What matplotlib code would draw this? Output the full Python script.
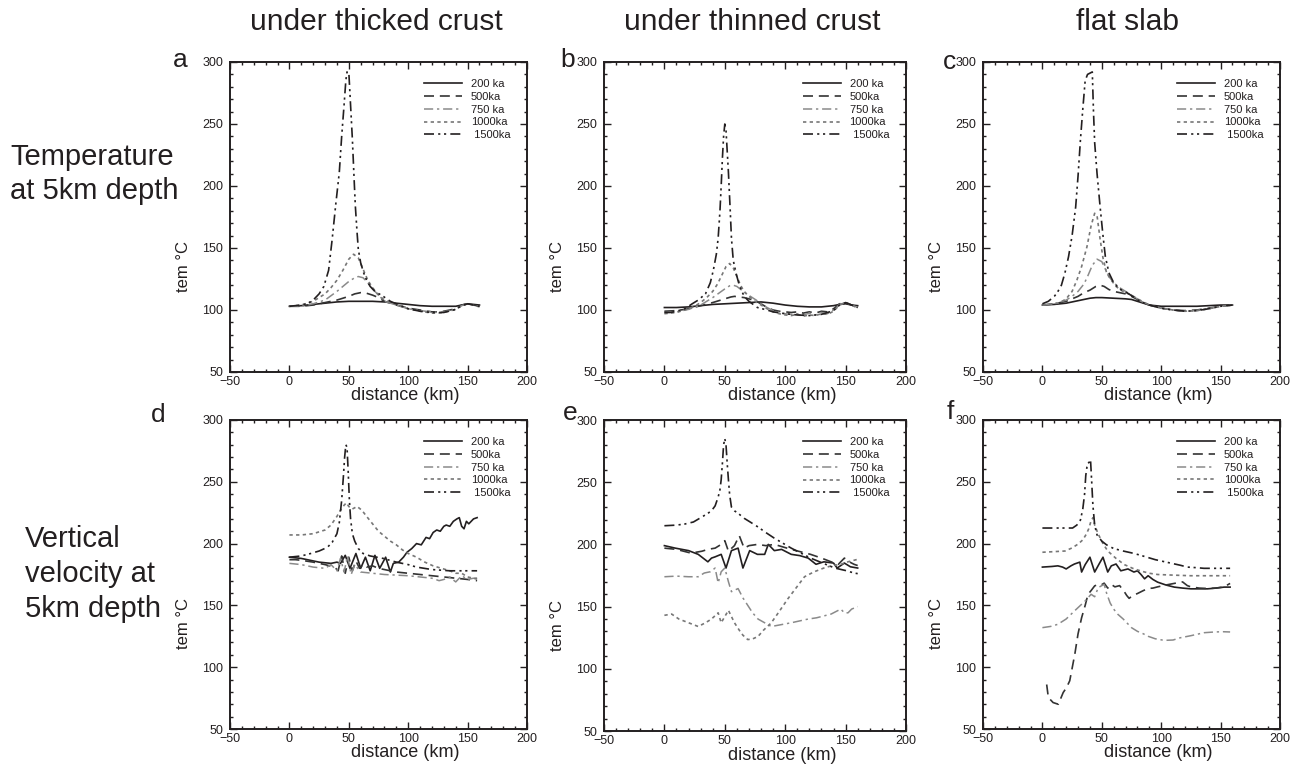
import matplotlib
matplotlib.use("Agg")
import matplotlib.pyplot as plt
from matplotlib.ticker import MultipleLocator

plt.rcParams['font.family'] = ['Liberation Sans', 'DejaVu Sans']

# ---------------- data ----------------
labels = ["200 ka", "500ka", "750 ka", "1000ka", " 1500ka"]
col_titles = ["under thicked crust", "under thinned crust", "flat slab"]
row_titles = ["Temperature\nat 5km depth", "Vertical\nvelocity at\n5km depth"]
panel_letters = ["a", "b", "c", "d", "e", "f"]
x_ticks = [-50, 0, 50, 100, 150, 200]
y_ticks = [50, 100, 150, 200, 250, 300]

# panel a
a_200_x = [0, 10, 20, 30, 40, 50, 60, 70, 80, 90, 100, 110, 120, 130, 140, 145, 150, 155, 160]
a_200_y = [103, 103.5, 104.5, 105.5, 106.5, 107, 107, 107, 106.5, 105.5, 104.5, 103.5, 103, 103, 103, 104, 105, 104.5, 104]
a_500_x = [0, 10, 20, 30, 40, 50, 55, 60, 65, 70, 75, 80, 90, 100, 110, 120, 125, 130, 140, 145, 150, 155, 160]
a_500_y = [103, 103, 104, 106, 108, 111, 113, 114, 113.5, 112, 110, 107, 104, 101.5, 100, 98.5, 98.5, 99, 101, 104, 105, 104, 103]
a_750_x = [0, 10, 20, 30, 40, 45, 50, 55, 58, 62, 66, 70, 75, 80, 90, 100, 110, 120, 125, 130, 140, 145, 150, 155, 160]
a_750_y = [103, 103, 105, 108, 115, 119, 123, 126, 127, 126, 122, 117, 112, 107, 104, 101, 99.5, 98.5, 98, 98.5, 100.5, 103.5, 105, 104, 103]
a_1000_x = [0, 10, 20, 30, 35, 40, 45, 50, 54, 58, 62, 66, 70, 75, 80, 90, 100, 110, 120, 125, 130, 140, 145, 150, 155, 160]
a_1000_y = [103, 104, 107, 113, 118, 124, 132, 141, 145, 142, 133, 124, 118, 112, 108, 104, 101, 99, 97.5, 97.5, 98, 100.5, 103.5, 105, 104, 102.5]
a_1500_x = [0, 5, 10, 15, 20, 25, 29, 33, 36, 39, 42, 44, 46, 47.5, 48.5, 50, 51.5, 53, 54.5, 55.5, 57, 58, 60, 62.5, 65, 68, 72, 79, 85, 90, 100, 110, 120, 130, 140, 145, 150, 155, 160]
a_1500_y = [103, 103.5, 104, 105, 108, 113, 119, 132, 157, 185, 211, 240, 265, 285, 292, 292, 265, 238, 205, 184, 162, 149, 138, 130, 124, 119, 115, 111, 107, 105, 101, 99, 98, 98, 100.5, 103.5, 105, 104, 103]

# panel b
b_200_x = [0, 10, 20, 30, 40, 50, 60, 70, 80, 90, 100, 110, 120, 130, 140, 145, 150, 155, 160]
b_200_y = [102, 102, 102.5, 103.5, 104.5, 105, 105.5, 106, 106.5, 105.5, 104, 103, 102.5, 102.5, 103.5, 104.5, 105, 104, 103.5]
b_500_x = [0, 10, 20, 30, 40, 50, 55, 58, 62, 66, 70, 75, 80, 85, 90, 95, 100, 105, 110, 115, 120, 125, 130, 135, 140, 145, 150, 155, 160]
b_500_y = [99, 99.5, 101, 103.5, 106, 109, 110.5, 111, 110.5, 110, 109, 107.5, 105, 102, 100, 99, 98.5, 98, 98.5, 97.5, 98.5, 97.5, 99, 98.5, 101, 105, 106, 104, 102.5]
b_750_x = [0, 10, 20, 30, 40, 45, 50, 54, 57, 60, 64, 68, 72, 76, 80, 85, 90, 95, 100, 105, 110, 115, 120, 125, 130, 135, 140, 145, 150, 155, 160]
b_750_y = [98, 98.5, 100.5, 104, 110, 113.5, 117, 119.5, 120, 119, 116, 113, 110.5, 108, 105, 102, 99.5, 98, 97, 96.5, 97, 96, 97.5, 96, 98, 97, 100, 104.5, 106, 104, 102]
b_1000_x = [0, 10, 20, 25, 30, 35, 40, 44, 48, 51, 54, 57, 60, 63, 66, 70, 75, 80, 85, 90, 95, 100, 105, 110, 115, 120, 125, 130, 135, 140, 145, 150, 155, 160]
b_1000_y = [97, 98, 101, 103, 106, 110, 115, 121, 129, 135, 137.5, 134, 127, 120, 115, 111, 107, 104, 101, 98.5, 97, 96, 95.5, 96.5, 95, 96, 95.5, 97, 96.5, 99, 104, 106, 104, 101.5]
b_1500_x = [0, 5, 10, 17, 23, 28, 34, 38, 40.5, 43, 44.5, 46, 47, 48, 49, 50, 51, 52, 53, 54.5, 55.5, 57, 59.5, 62, 66, 70, 77, 85, 90, 100, 110, 120, 130, 140, 145, 150, 155, 160]
b_1500_y = [98, 98, 99, 101, 105, 108, 113, 122, 132, 145, 158, 180, 200, 222, 240, 250, 245, 228, 211, 180, 158, 140, 129, 120, 111, 107, 102, 100, 98.5, 97, 96, 95.5, 96.5, 99.5, 104, 106, 104, 102]

# panel c
c_200_x = [0, 10, 20, 30, 40, 45, 50, 60, 70, 75, 80, 85, 90, 95, 100, 110, 120, 130, 140, 150, 160]
c_200_y = [104, 104.5, 105.5, 107.5, 109.5, 110, 110, 109.5, 109, 108.5, 107, 105.5, 104, 103.5, 103, 103, 103, 103, 103.5, 104, 104]
c_500_x = [0, 10, 20, 30, 35, 40, 45, 48.5, 52, 56, 60, 65, 70, 75, 80, 85, 90, 100, 110, 120, 130, 140, 150, 160]
c_500_y = [104, 105, 107, 111, 114, 116, 119, 120, 119, 116.5, 115, 114, 113, 111, 108.5, 106, 104, 101.5, 100, 99.5, 100, 101.5, 103, 104]
c_750_x = [0, 10, 20, 25, 30, 35, 38, 42, 46, 50, 53, 56, 60, 65, 70, 75, 80, 85, 90, 100, 110, 120, 130, 140, 150, 160]
c_750_y = [104, 105, 108, 111, 115, 121, 127, 136, 141, 139, 133, 127, 122, 118, 115, 112, 109, 106, 104, 101.5, 100, 99, 99.5, 101, 103, 104]
c_1000_x = [0, 10, 15, 20, 25, 29, 33, 37.5, 41, 44, 46, 48.6, 51, 54, 58, 62, 66, 70, 75, 80, 85, 90, 100, 110, 120, 130, 140, 150, 160]
c_1000_y = [104, 105, 106, 109, 115, 124, 135, 151, 168, 178, 176, 157, 142, 130, 124, 119, 116, 114, 112, 109, 106.5, 104, 101.5, 100, 99, 99.5, 101, 103, 104]
c_1500_x = [0, 5, 10, 12.5, 16, 19, 22, 25, 28, 30, 32, 34, 36, 38, 40, 42, 43, 44, 46, 48.6, 51, 53, 56, 60, 65, 71, 76, 82, 90, 100, 110, 120, 130, 140, 150, 160]
c_1500_y = [105, 107, 111, 114, 120, 130, 143, 160, 183, 208, 237, 262, 285, 290, 291, 292, 260, 235, 210, 183, 160, 143, 130, 122, 117, 114, 111, 107, 104, 101.5, 100, 99, 99.5, 101, 103, 104]

# panel d
d_200_x = [0, 5, 10, 15, 20, 25, 30, 35, 40, 43, 47, 51, 56, 60, 64, 68, 72, 76, 81, 85, 87.5, 92, 96, 99, 103, 107, 111, 115, 118, 121, 124, 127, 130, 132, 135, 138, 141, 143, 145, 147, 149, 151, 155, 158]
d_200_y = [189, 188.5, 188, 187, 186, 185, 184.5, 184, 185, 184, 190.5, 180, 192, 180, 189, 178, 190.5, 180, 189, 177, 184, 185, 189, 193, 196, 200, 199, 205, 204, 209, 211, 210, 214, 215, 214, 218, 220, 221, 214, 212, 218, 216, 220, 221]
d_500_x = [0, 5, 10, 20, 30, 38, 41, 44, 47, 50, 53, 56, 59, 62, 65, 70, 75, 80, 90, 100, 110, 120, 130, 140, 150, 158]
d_500_y = [187, 187, 186.5, 185, 183, 181, 178, 190, 176, 189, 178, 186, 180, 183, 181, 182, 180, 179, 177, 176, 175, 174, 173, 172, 171, 170]
d_750_x = [0, 10, 20, 30, 35, 40, 43, 46, 49, 52, 55, 60, 70, 80, 90, 100, 110, 120, 126, 130, 135, 140, 145, 150, 155, 158]
d_750_y = [184, 183, 181, 180, 183, 178, 188, 177, 190, 175, 183, 177, 176, 175, 174.5, 174, 173, 172, 170, 171, 173, 169, 174, 171, 172, 171]
d_1000_x = [0, 10, 20, 30, 35, 40, 43, 46, 48, 50, 53, 57, 61, 65, 70, 75, 80, 85, 90, 95, 100, 107, 114, 121, 128, 135, 140, 145, 150, 155, 158]
d_1000_y = [207, 207, 208, 211, 215, 222, 227, 231, 233, 230, 228, 230, 227, 222, 216, 210, 206, 202, 199, 195, 192, 189, 185, 182, 180, 178, 176, 176, 173, 172, 172]
d_1500_x = [0, 10, 18, 25, 32, 36, 40, 42, 44, 45.5, 46.5, 47.5, 48.5, 49.5, 50.5, 51.5, 53, 55, 58, 62, 68, 79, 90, 100, 107, 120, 135, 145, 158]
d_1500_y = [189, 190, 192, 194, 197, 201, 208, 217, 235, 255, 270, 280, 278, 258, 235, 220, 208, 202, 196, 192, 190, 188, 185, 183, 181, 179, 178, 178, 178]

# panel e
e_200_x = [0, 9, 20, 28, 36, 39, 42, 47, 51, 55.5, 61, 65, 70.6, 77, 83, 86, 91, 97, 105, 112, 119, 125.5, 132, 140, 143, 149, 154, 160]
e_200_y = [199, 197, 195, 192, 186, 189, 190, 192, 181, 195, 197, 181, 195, 192, 192, 200, 195, 196, 192, 191, 189, 184, 186, 185, 181, 185, 182, 181]
e_500_x = [0, 10, 22, 31, 36, 42, 47, 50, 53, 58, 62, 66, 70, 77, 84, 91, 98, 105, 113, 121, 130, 138, 144, 149, 153, 157, 160]
e_500_y = [197, 196, 193, 194.5, 196, 197, 200, 203, 194.5, 199, 207, 197, 199, 200, 199, 200, 198, 196, 194, 192, 189, 186, 184, 189, 186, 184, 183]
e_750_x = [0, 10, 20, 28, 33, 38, 42, 44.5, 47, 50, 53, 55.5, 61, 65, 69, 73, 77.5, 83, 88.5, 94, 99.5, 105, 112, 119, 126, 132, 138, 142, 146, 149, 152, 155, 160]
e_750_y = [174, 174.5, 174, 174, 177, 178, 181, 169, 178, 181, 170, 162, 164.5, 157, 151, 145, 140, 137, 134, 135, 136, 137, 138.5, 140, 141, 142.5, 144, 146, 148, 145, 145, 148, 150]
e_1000_x = [0, 6, 12, 20, 28, 34, 39, 44.5, 47, 50, 53, 56, 58, 62, 65, 69, 73, 77.5, 82, 88.5, 95, 102, 109, 116, 124, 132, 139, 146, 152, 160]
e_1000_y = [143, 144, 140, 137, 134, 137, 140, 145, 137, 142, 147, 141, 137, 131, 127, 123.5, 124, 126, 131, 137, 146, 156, 165, 174, 178, 181, 183, 184, 186, 188]
e_1500_x = [0, 10, 17, 24, 31, 36, 39, 42, 44.5, 46, 47, 48, 49, 50, 51, 52, 53, 54, 55.5, 58, 61, 66, 71, 77.5, 84, 91, 98, 105, 113, 121, 131, 141, 150, 157, 160]
e_1500_y = [215, 215.5, 216.4, 218, 222, 225, 227, 231, 238, 244, 252, 265, 280, 285, 280, 265, 252, 240, 230, 227, 225, 221, 218, 214, 209.5, 205, 201, 197, 193, 189, 185, 181, 179, 177, 176.5]

# panel f
f_200_x = [0, 8, 13, 17, 20, 24, 27, 31.5, 33, 36, 40, 44, 48, 51, 55, 58, 62, 66, 72, 77, 80, 83, 86, 89, 93, 97, 104, 111, 118, 125, 132, 139, 146, 153, 158]
f_200_y = [181, 181.5, 182, 181, 179.5, 182, 183.5, 185, 177, 183, 189, 177, 184, 189, 177, 182, 183.5, 178, 179.5, 177, 178, 175, 171.5, 174, 171, 168.8, 166.5, 164.8, 164, 163.4, 163.4, 163.4, 164, 164.8, 164.8]
f_500_x = [3.6, 5, 9, 13.4, 17.5, 20.3, 23, 27.3, 30, 33, 36, 38.4, 41, 44, 47, 49.6, 52, 55, 58, 61, 65, 69, 71, 73, 76, 80, 85, 89, 93, 97, 104, 111, 115, 118, 122, 125, 132, 139, 146, 153, 158]
f_500_y = [86, 75.5, 71.4, 70, 79.5, 83.5, 89, 110.6, 127, 140, 150, 159, 162, 165.8, 167, 166.6, 168, 164, 167, 165, 166, 161, 158, 155.7, 158, 159.6, 162, 163.7, 164, 165, 166.5, 167.8, 168.5, 169, 166, 165, 164, 163.7, 164, 165, 167.8]
f_750_x = [0, 7, 13, 20, 27, 32, 36, 41, 44, 47, 50, 52, 54, 57, 60, 63.5, 68, 72, 75, 80, 85, 89, 95, 102.5, 110, 116, 125, 136, 145, 152, 158]
f_750_y = [132, 133, 134.7, 139, 145.5, 150, 153.6, 159, 157, 164.4, 166, 167, 160, 152, 147, 142.8, 139, 135, 132, 129, 127, 125, 123, 121.7, 122, 123.8, 125.5, 127.9, 128.5, 128.7, 128.5]
f_1000_x = [0, 10, 19, 25, 30, 34, 37, 39, 41, 42.6, 44, 47, 51, 55, 62, 69, 76, 83, 90, 97, 110, 125, 140, 158]
f_1000_y = [193, 193.5, 194, 196.5, 199.6, 203, 207.7, 212, 218.5, 221, 215, 207.7, 200, 194, 188, 183, 180, 177.8, 176, 175, 174.5, 174, 174, 174]
f_1500_x = [0, 10, 20, 25.4, 29, 32, 34, 35.5, 36.5, 37.5, 38.5, 39.5, 40.5, 41.5, 42.5, 44, 46, 50, 54, 60, 68, 75, 81, 88, 95, 102, 109, 116, 122, 130, 136, 145, 158]
f_1500_y = [212.6, 212.6, 212.6, 212.6, 215, 219, 228, 240, 255, 262, 265, 266, 268, 250, 231, 215, 207, 202, 199, 196, 194, 192.5, 191, 189, 187, 185.5, 184, 182.5, 181, 180.5, 180, 180, 180]

panels = [
    [(a_200_x, a_200_y), (a_500_x, a_500_y), (a_750_x, a_750_y), (a_1000_x, a_1000_y), (a_1500_x, a_1500_y)],
    [(b_200_x, b_200_y), (b_500_x, b_500_y), (b_750_x, b_750_y), (b_1000_x, b_1000_y), (b_1500_x, b_1500_y)],
    [(c_200_x, c_200_y), (c_500_x, c_500_y), (c_750_x, c_750_y), (c_1000_x, c_1000_y), (c_1500_x, c_1500_y)],
    [(d_200_x, d_200_y), (d_500_x, d_500_y), (d_750_x, d_750_y), (d_1000_x, d_1000_y), (d_1500_x, d_1500_y)],
    [(e_200_x, e_200_y), (e_500_x, e_500_y), (e_750_x, e_750_y), (e_1000_x, e_1000_y), (e_1500_x, e_1500_y)],
    [(f_200_x, f_200_y), (f_500_x, f_500_y), (f_750_x, f_750_y), (f_1000_x, f_1000_y), (f_1500_x, f_1500_y)],
]

# ---------------- styles ----------------
TXT = '#231f20'
styles = [
    dict(color='#231f20', linestyle='-', lw=1.2),
    dict(color='#333333', linestyle=(0, (6, 3.5)), lw=1.2),
    dict(color='#8a8a8a', linestyle=(0, (6, 2.5, 1.5, 2.5)), lw=1.1),
    dict(color='#777777', linestyle=(0, (2.0, 2.0)), lw=1.2),
    dict(color='#231f20', linestyle=(0, (6, 2.5, 1.3, 2.2, 1.3, 2.5)), lw=1.2),
]

W, H = 1295, 766
fig = plt.figure(figsize=(W / 100, H / 100), dpi=100)

# axes boxes in pixels: (left, right, top, bottom)
boxes = [
    (230, 527, 62, 372), (604, 906, 62, 372), (983, 1280, 62, 372),
    (230, 527, 420, 729), (604, 906, 420, 731), (983, 1280, 420, 729),
]
letter_pos = [(180, 60), (568, 60), (950, 62), (158, 415), (570, 413), (950, 412)]

for i, (l, r, t, b) in enumerate(boxes):
    ax = fig.add_axes([l / W, 1 - b / H, (r - l) / W, (b - t) / H])
    for (xs, ys), st, lab in zip(panels[i], styles, labels):
        ax.plot(xs, ys, label=lab, **st)
    ax.set_xlim(-50, 200)
    ax.set_ylim(50, 300)
    ax.set_xticks(x_ticks)
    ax.set_yticks(y_ticks)
    ax.xaxis.set_minor_locator(MultipleLocator(10))
    ax.yaxis.set_minor_locator(MultipleLocator(10))
    ax.tick_params(which='both', direction='in', top=True, right=True,
                   labelsize=9, colors=TXT, width=1.0)
    ax.tick_params(axis='x', pad=3)
    ax.tick_params(axis='y', pad=5)
    ax.tick_params(which='major', length=5)
    ax.tick_params(which='minor', length=2.5)
    for sp in ax.spines.values():
        sp.set_linewidth(1.4)
        sp.set_color(TXT)
    ax.set_xlabel("distance (km)", fontsize=13, color=TXT, labelpad=0)
    ax.xaxis.set_label_coords(0.59, -0.05, transform=ax.transAxes)
    ax.xaxis.label.set_va('top')
    ax.set_ylabel("tem °C", fontsize=12, color=TXT)
    ax.yaxis.set_label_coords(-0.13, 0.34)
    leg = ax.legend(loc='upper right', bbox_to_anchor=(0.97, 0.97), frameon=False,
                    fontsize=8, handlelength=3.4, handletextpad=0.8,
                    labelspacing=0.25, borderpad=0.2)
    for tx in leg.get_texts():
        tx.set_color(TXT)
    lx, ly = letter_pos[i]
    fig.text(lx / W, 1 - ly / H, panel_letters[i], fontsize=19, color=TXT,
             ha='center', va='center')

col_x = [376, 752, 1128]
for cx, ttl in zip(col_x, col_titles):
    fig.text(cx / W, 1 - 22 / H, ttl, fontsize=21.5, color=TXT, ha='center', va='center')

fig.text(10 / W, 1 - 174 / H, row_titles[0], fontsize=21, color=TXT,
         ha='left', va='center', linespacing=1.25)
fig.text(25 / W, 1 - 574 / H, row_titles[1], fontsize=21, color=TXT,
         ha='left', va='center', linespacing=1.3)

fig.savefig("out.png", dpi=100)
